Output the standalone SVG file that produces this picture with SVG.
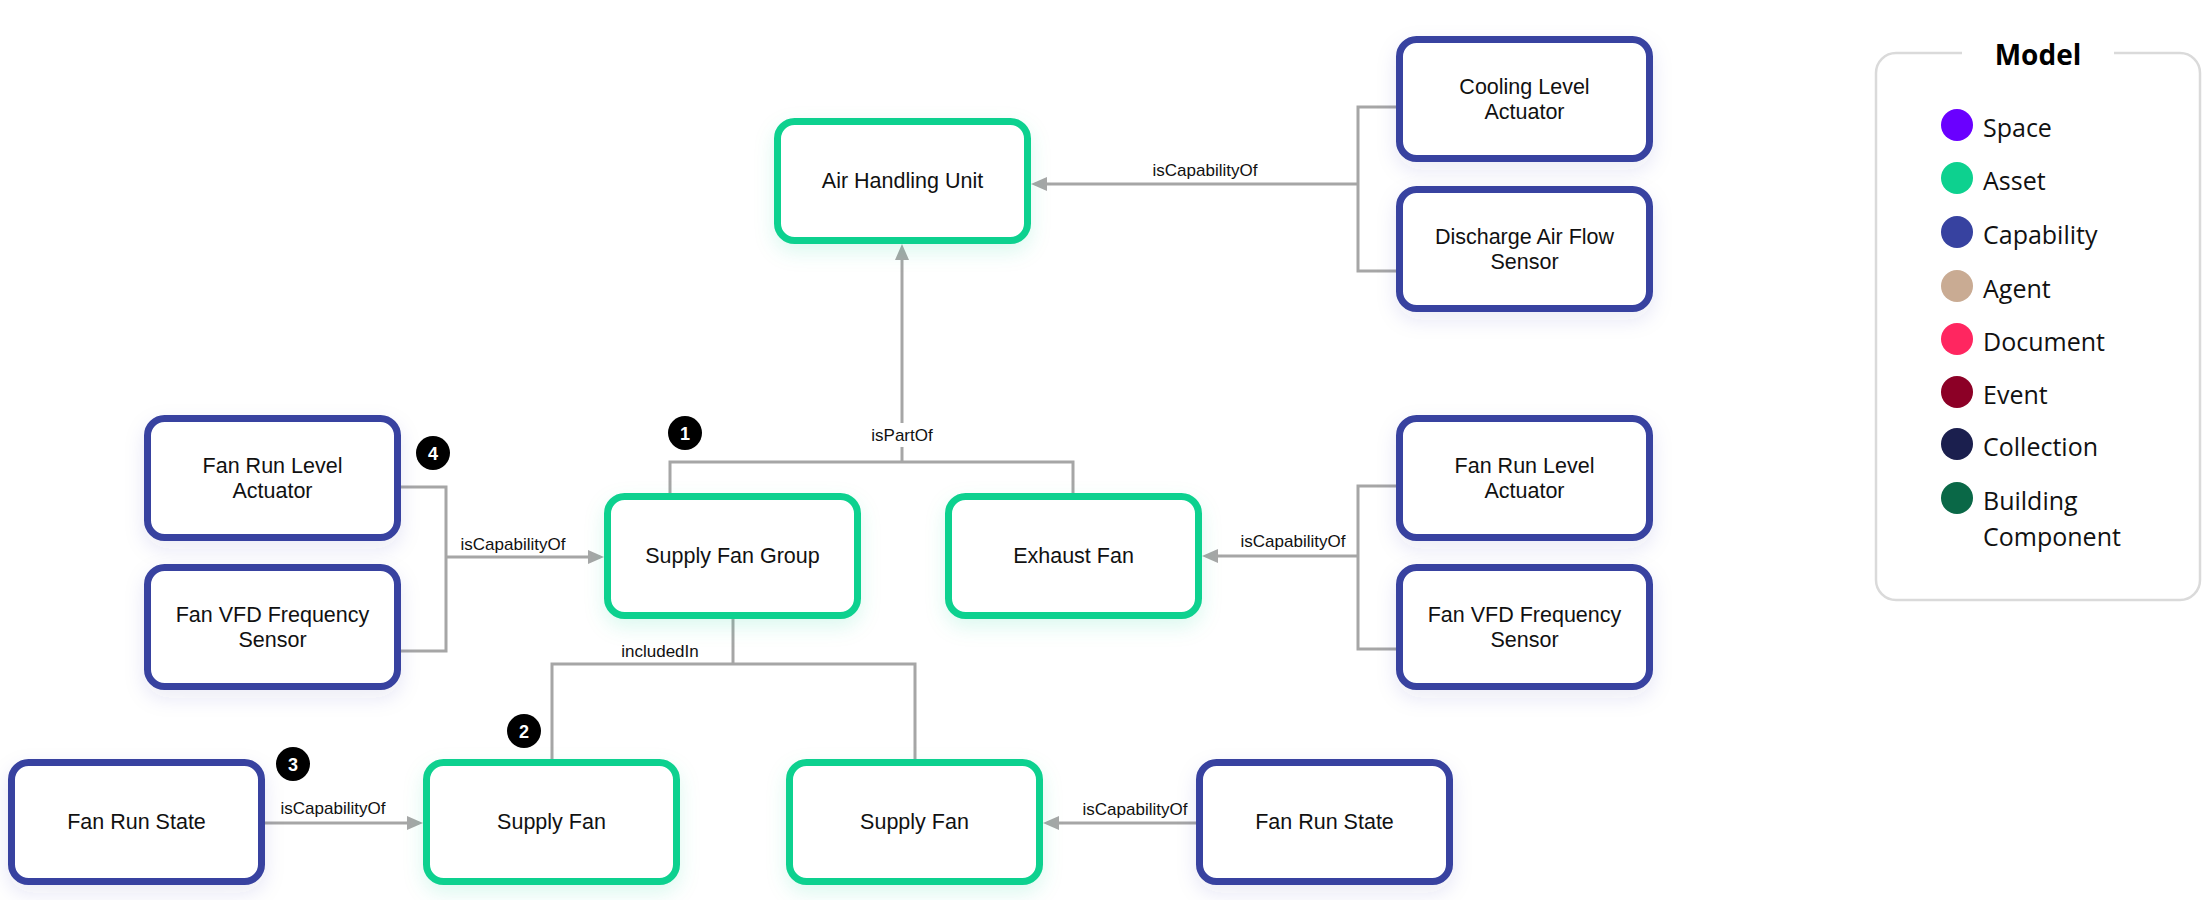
<svg xmlns="http://www.w3.org/2000/svg" width="2212" height="900" viewBox="0 0 2212 900">
<style>
.node rect{fill:#fff;stroke-width:7}
.asset rect{stroke:#0dd18f;filter:url(#shA)}
.cap rect{stroke:#3742a0;filter:url(#shC)}
.nt{font-family:"Liberation Sans",Arial,sans-serif;font-size:21.5px;fill:#111;text-anchor:middle}
.conn path{fill:none;stroke:#a6a6a6;stroke-width:3}
.arr{marker-end:url(#ah)}
.el{font-family:"Liberation Sans",Arial,sans-serif;font-size:17px;fill:#111;text-anchor:middle}
.badge circle{fill:#000}
.badge text{font-family:"Liberation Sans",Arial,sans-serif;font-size:18px;font-weight:bold;fill:#fff;text-anchor:middle}
.lg{font-family:"Open Sans","Liberation Sans",sans-serif;font-size:25px;fill:#111}
</style>
<defs>
<marker id="ah" markerUnits="userSpaceOnUse" markerWidth="16" markerHeight="14" refX="6" refY="7" orient="auto">
<path d="M0,0 L16,7 L0,14 z" fill="#a6a6a6"/>
</marker>
<filter id="shA" x="-30%" y="-30%" width="160%" height="170%">
<feDropShadow dx="0" dy="8" stdDeviation="10" flood-color="#0dd18f" flood-opacity="0.14"/>
</filter>
<filter id="shC" x="-30%" y="-30%" width="160%" height="170%">
<feDropShadow dx="0" dy="8" stdDeviation="10" flood-color="#3742a0" flood-opacity="0.10"/>
</filter>
</defs>
<rect width="2212" height="900" fill="#fff"/>

<g id="connectors" class="conn">
<path d="M1396,107 H1358 V271 H1396"/>
<path class="arr" d="M1358,184 H1041"/>
<path d="M670,494 V462 H1073 V494"/>
<path class="arr" d="M902,462 V254"/>
<path d="M401,487 H446 V651 H401"/>
<path class="arr" d="M446,557 H594"/>
<path d="M1396,486 H1358 V649 H1396"/>
<path class="arr" d="M1358,556 H1212"/>
<path d="M733,618 V664"/>
<path d="M552,759 V664 H915 V759"/>
<path class="arr" d="M265,823 H413"/>
<path class="arr" d="M1196,823 H1053"/>
<rect x="864" y="423" width="76" height="24" fill="#fff"/>
<text class="el" x="1205" y="176">isCapabilityOf</text>
<text class="el" x="902" y="441">isPartOf</text>
<text class="el" x="513" y="550">isCapabilityOf</text>
<text class="el" x="1293" y="547">isCapabilityOf</text>
<text class="el" x="660" y="657">includedIn</text>
<text class="el" x="333" y="814">isCapabilityOf</text>
<text class="el" x="1135" y="815">isCapabilityOf</text>
</g>

<g id="ahu" class="node asset"><rect x="777.5" y="121.5" width="250" height="119" rx="17"/><text class="nt" x="902.5" y="188">Air Handling Unit</text></g>
<g id="cooling-level-actuator" class="node cap"><rect x="1399.5" y="39.5" width="250" height="119" rx="17"/><text class="nt" x="1524.5" y="94">Cooling Level</text><text class="nt" x="1524.5" y="119">Actuator</text></g>
<g id="discharge-air-flow-sensor" class="node cap"><rect x="1399.5" y="189.5" width="250" height="119" rx="17"/><text class="nt" x="1524.5" y="244">Discharge Air Flow</text><text class="nt" x="1524.5" y="269">Sensor</text></g>
<g id="fan-run-level-actuator-left" class="node cap"><rect x="147.5" y="418.5" width="250" height="119" rx="17"/><text class="nt" x="272.5" y="473">Fan Run Level</text><text class="nt" x="272.5" y="498">Actuator</text></g>
<g id="fan-vfd-sensor-left" class="node cap"><rect x="147.5" y="567.5" width="250" height="119" rx="17"/><text class="nt" x="272.5" y="622">Fan VFD Frequency</text><text class="nt" x="272.5" y="647">Sensor</text></g>
<g id="supply-fan-group" class="node asset"><rect x="607.5" y="496.5" width="250" height="119" rx="17"/><text class="nt" x="732.5" y="563">Supply Fan Group</text></g>
<g id="exhaust-fan" class="node asset"><rect x="948.5" y="496.5" width="250" height="119" rx="17"/><text class="nt" x="1073.5" y="563">Exhaust Fan</text></g>
<g id="fan-run-level-actuator-right" class="node cap"><rect x="1399.5" y="418.5" width="250" height="119" rx="17"/><text class="nt" x="1524.5" y="473">Fan Run Level</text><text class="nt" x="1524.5" y="498">Actuator</text></g>
<g id="fan-vfd-sensor-right" class="node cap"><rect x="1399.5" y="567.5" width="250" height="119" rx="17"/><text class="nt" x="1524.5" y="622">Fan VFD Frequency</text><text class="nt" x="1524.5" y="647">Sensor</text></g>
<g id="fan-run-state-left" class="node cap"><rect x="11.5" y="762.5" width="250" height="119" rx="17"/><text class="nt" x="136.5" y="829">Fan Run State</text></g>
<g id="supply-fan-1" class="node asset"><rect x="426.5" y="762.5" width="250" height="119" rx="17"/><text class="nt" x="551.5" y="829">Supply Fan</text></g>
<g id="supply-fan-2" class="node asset"><rect x="789.5" y="762.5" width="250" height="119" rx="17"/><text class="nt" x="914.5" y="829">Supply Fan</text></g>
<g id="fan-run-state-right" class="node cap"><rect x="1199.5" y="762.5" width="250" height="119" rx="17"/><text class="nt" x="1324.5" y="829">Fan Run State</text></g>

<g id="badges" class="badge">
<g id="badge-1"><circle cx="685" cy="433" r="17"/><text x="685" y="440">1</text></g>
<g id="badge-2"><circle cx="524" cy="731" r="17"/><text x="524" y="738">2</text></g>
<g id="badge-3"><circle cx="293" cy="764" r="17"/><text x="293" y="771">3</text></g>
<g id="badge-4"><circle cx="433" cy="453" r="17"/><text x="433" y="460">4</text></g>
</g>

<g id="legend">
<path d="M1962,53 H1896 A20,20 0 0 0 1876,73 V580 A20,20 0 0 0 1896,600 H2180 A20,20 0 0 0 2200,580 V73 A20,20 0 0 0 2180,53 H2114" fill="none" stroke="#dadada" stroke-width="2.5"/>
<text x="2038" y="65" font-family="'Open Sans','Liberation Sans',sans-serif" font-size="28" font-weight="bold" fill="#000" text-anchor="middle">Model</text>
<ellipse cx="1957" cy="125" rx="16" ry="16" fill="#6a00ff"/><text class="lg" x="1983" y="137">Space</text>
<ellipse cx="1957" cy="178" rx="16" ry="16" fill="#0dd18f"/><text class="lg" x="1983" y="190">Asset</text>
<ellipse cx="1957" cy="232" rx="16" ry="16" fill="#3742a0"/><text class="lg" x="1983" y="244">Capability</text>
<ellipse cx="1957" cy="286" rx="16" ry="16" fill="#c9ab93"/><text class="lg" x="1983" y="298">Agent</text>
<ellipse cx="1957" cy="339" rx="16" ry="16" fill="#ff2660"/><text class="lg" x="1983" y="351">Document</text>
<ellipse cx="1957" cy="392" rx="16" ry="16" fill="#8c0026"/><text class="lg" x="1983" y="404">Event</text>
<ellipse cx="1957" cy="444" rx="16" ry="16" fill="#1b1f4e"/><text class="lg" x="1983" y="456">Collection</text>
<ellipse cx="1957" cy="498" rx="16" ry="16" fill="#0a6847"/><text class="lg" x="1983" y="510">Building</text><text class="lg" x="1983" y="546">Component</text>
</g>
</svg>
